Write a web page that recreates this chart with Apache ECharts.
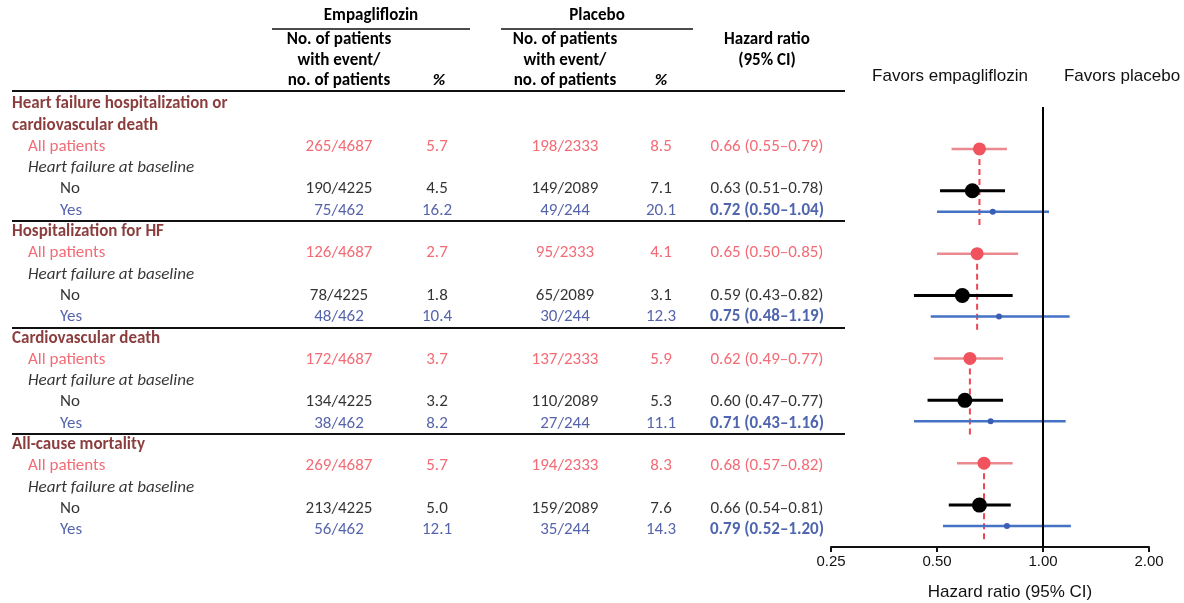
<!DOCTYPE html>
<html>
<head>
<meta charset="utf-8">
<script src="https://cdn.jsdelivr.net/npm/echarts@6/dist/echarts.min.js"></script>
<style>
html,body{margin:0;padding:0;background:#fff;}
#chart{width:1184px;height:603px;}
</style>
</head>
<body>
<div id="chart"></div>
<script>
// ---------- DATA ----------
const headings = ["Heart failure hospitalization or", "cardiovascular death", "Hospitalization for HF", "Cardiovascular death", "All-cause mortality"];
const headingRows = [0, 1, 6, 11, 16];
const baselineLabel = "Heart failure at baseline";
const baselineRows = [3, 8, 13, 18];
const subgroups = ["All patients", "No", "Yes", "All patients", "No", "Yes", "All patients", "No", "Yes", "All patients", "No", "Yes"];
const kinds = ["all", "no", "yes", "all", "no", "yes", "all", "no", "yes", "all", "no", "yes"];
const dataRows = [2, 4, 5, 7, 9, 10, 12, 14, 15, 17, 19, 20];
const empEvents = ["265/4687", "190/4225", "75/462", "126/4687", "78/4225", "48/462", "172/4687", "134/4225", "38/462", "269/4687", "213/4225", "56/462"];
const empPct = ["5.7", "4.5", "16.2", "2.7", "1.8", "10.4", "3.7", "3.2", "8.2", "5.7", "5.0", "12.1"];
const pboEvents = ["198/2333", "149/2089", "49/244", "95/2333", "65/2089", "30/244", "137/2333", "110/2089", "27/244", "194/2333", "159/2089", "35/244"];
const pboPct = ["8.5", "7.1", "20.1", "4.1", "3.1", "12.3", "5.9", "5.3", "11.1", "8.3", "7.6", "14.3"];
const hr = [0.66, 0.63, 0.72, 0.65, 0.59, 0.75, 0.62, 0.60, 0.71, 0.68, 0.66, 0.79];
const hrLow = [0.55, 0.51, 0.50, 0.50, 0.43, 0.48, 0.49, 0.47, 0.43, 0.57, 0.54, 0.52];
const hrHigh = [0.79, 0.78, 1.04, 0.85, 0.82, 1.19, 0.77, 0.77, 1.16, 0.82, 0.81, 1.20];
const separatorRows = [5.5, 10.5, 15.5, 20.5];
const xTicks = [0.25, 0.5, 1, 2];

// ---------- STYLE ----------
const TF = "Carlito, Lato, 'Noto Sans', sans-serif";
const AF = "'Liberation Sans', Arial, sans-serif";
const C = {
  head: "#6E0C0C", red: "#EF4653", blue: "#2A3C96", blueBold: "#23409A", black: "#000",
  redLine: "#EA8A8F", redPt: "#F0535D", blueLine: "#4472C4", bluePt: "#3A5DB5"
};
const COL = { head: 12, sub: 28, subsub: 60, empE: 339, empP: 437, pboE: 565, pboP: 661, hr: 767 };
const FS = 17;

function fmt2(v) { return v.toFixed(2); }
function hrText(i) { return fmt2(hr[i]) + " (" + fmt2(hrLow[i]) + "\u2013" + fmt2(hrHigh[i]) + ")"; }

function cell(x, row, text, color, align, extra) {
  return {
    value: [x, row],
    label: Object.assign({ show: true, formatter: text, color: color, align: align, verticalAlign: 'middle',
      position: 'inside', fontFamily: TF, fontSize: FS }, extra || {})
  };
}

const tableCells = [];
headingRows.forEach((r, i) => tableCells.push(cell(COL.head, r, headings[i], C.head, 'left', { fontWeight: 900 })));
baselineRows.forEach(r => tableCells.push(cell(COL.sub, r, baselineLabel, C.black, 'left', { fontStyle: 'italic' })));
dataRows.forEach((r, i) => {
  const k = kinds[i];
  const col = k === 'all' ? C.red : (k === 'yes' ? C.blue : C.black);
  tableCells.push(cell(k === 'all' ? COL.sub : COL.subsub, r, subgroups[i], col, 'left'));
  tableCells.push(cell(COL.empE, r, empEvents[i], col, 'center'));
  tableCells.push(cell(COL.empP, r, empPct[i], col, 'center'));
  tableCells.push(cell(COL.pboE, r, pboEvents[i], col, 'center'));
  tableCells.push(cell(COL.pboP, r, pboPct[i], col, 'center'));
  if (k === 'yes') tableCells.push(cell(COL.hr, r, hrText(i), C.blueBold, 'center', { fontWeight: 'bold' }));
  else tableCells.push(cell(COL.hr, r, hrText(i), col, 'center'));
});

const forestData = dataRows.map((r, i) => ({ value: [hr[i], hrLow[i], hrHigh[i], r], kind: kinds[i] }));
const dashData = [];
dataRows.forEach((r, i) => { if (kinds[i] === 'all') dashData.push([hr[i], r, dataRows[i + 2] + 0.7]); });

const styleOf = {
  all: { line: C.redLine, lw: 2.5, pt: C.redPt, r: 6.5 },
  no: { line: "#000", lw: 3, pt: "#000", r: 7.5 },
  yes: { line: C.blueLine, lw: 2.5, pt: C.bluePt, r: 3 }
};

const chart = echarts.init(document.getElementById('chart'), null, { renderer: 'canvas' });

function hText(x, y, text, opts) {
  return Object.assign({ type: 'text', x: x, y: y, style: Object.assign({ text: text, fontFamily: TF, fontSize: FS,
    fontWeight: 'bold', fill: '#000', align: 'center', verticalAlign: 'middle' }, opts || {}) });
}
function hLine(x1, y, x2, w) {
  return { type: 'line', shape: { x1: x1, y1: y, x2: x2, y2: y }, style: { stroke: '#111', lineWidth: w || 1.5 } };
}

const option = {
  animation: false,
  backgroundColor: '#fff',
  grid: [
    { left: 831, right: 35, top: 107, height: 440 },
    { left: 0, right: 0, top: 104, height: 426 }
  ],
  xAxis: [
    {
      gridIndex: 0, type: 'log', logBase: 2, min: xTicks[0], max: xTicks[xTicks.length - 1], position: 'bottom',
      axisLine: { show: true, onZero: false, lineStyle: { color: '#111', width: 2 } },
      axisTick: { show: true, length: 5, lineStyle: { color: '#111', width: 2 } },
      splitLine: { show: false },
      axisLabel: { margin: 7, color: '#111', fontFamily: AF, fontSize: 15, formatter: v => fmt2(v) }
    },
    { gridIndex: 1, type: 'value', min: 0, max: 1184, show: false }
  ],
  yAxis: [
    { gridIndex: 0, type: 'value', min: 0, max: 21, inverse: true, show: false },
    { gridIndex: 1, type: 'value', min: 0, max: 20, inverse: true, show: false }
  ],
  graphic: [
    hText(371, 16, "Empagliflozin"),
    hText(597, 16, "Placebo"),
    hLine(272, 29, 470), hLine(501, 29, 693),
    hText(339, 40, "No. of patients"), hText(339, 61, "with event/"), hText(339, 81, "no. of patients"),
    hText(565, 40, "No. of patients"), hText(565, 61, "with event/"), hText(565, 81, "no. of patients"),
    hText(439, 81, "%", { fontStyle: 'italic' }), hText(661, 81, "%", { fontStyle: 'italic' }),
    hText(767, 40, "Hazard ratio"), hText(767, 61, "(95% CI)"),
    hLine(12, 91, 845, 2),
    hText(950, 76, "Favors empagliflozin", { fontFamily: AF, fontSize: 17, fontWeight: 'normal', fill: '#111' }),
    hText(1122, 76, "Favors placebo", { fontFamily: AF, fontSize: 17, fontWeight: 'normal', fill: '#111' }),
    hText(1010, 592, "Hazard ratio (95% CI)", { fontFamily: AF, fontSize: 17, fontWeight: 'normal', fill: '#111' })
  ],
  series: [
    {
      type: 'custom', xAxisIndex: 0, yAxisIndex: 0, silent: true, z: 2,
      data: dashData,
      renderItem: function (params, api) {
        const a = api.coord([api.value(0), api.value(1)]);
        const b = api.coord([api.value(0), api.value(2)]);
        return { type: 'line', shape: { x1: a[0], y1: a[1], x2: b[0], y2: b[1] },
          style: { stroke: C.red, lineWidth: 2, lineDash: [6, 4] } };
      },
      markLine: {
        silent: true, symbol: 'none', label: { show: false },
        lineStyle: { color: '#000', width: 2, type: 'solid' },
        data: [{ xAxis: 1 }]
      }
    },
    {
      type: 'custom', xAxisIndex: 0, yAxisIndex: 0, silent: true, z: 3,
      data: forestData,
      renderItem: function (params, api) {
        const s = styleOf[forestData[params.dataIndex].kind];
        const y = api.value(3);
        const lo = api.coord([api.value(1), y]);
        const hi = api.coord([api.value(2), y]);
        const c = api.coord([api.value(0), y]);
        return { type: 'group', children: [
          { type: 'line', shape: { x1: lo[0], y1: lo[1], x2: hi[0], y2: hi[1] }, style: { stroke: s.line, lineWidth: s.lw } },
          { type: 'circle', shape: { cx: c[0], cy: c[1], r: s.r }, style: { fill: s.pt } }
        ] };
      }
    },
    {
      type: 'scatter', xAxisIndex: 1, yAxisIndex: 1, silent: true, symbolSize: 1,
      itemStyle: { color: 'rgba(0,0,0,0)' },
      data: tableCells,
      markLine: {
        silent: true, symbol: 'none', label: { show: false },
        lineStyle: { color: '#111', width: 2, type: 'solid' },
        data: separatorRows.map(r => [{ coord: [12, r] }, { coord: [845, r] }])
      }
    }
  ]
};
chart.setOption(option);
</script>
</body>
</html>
